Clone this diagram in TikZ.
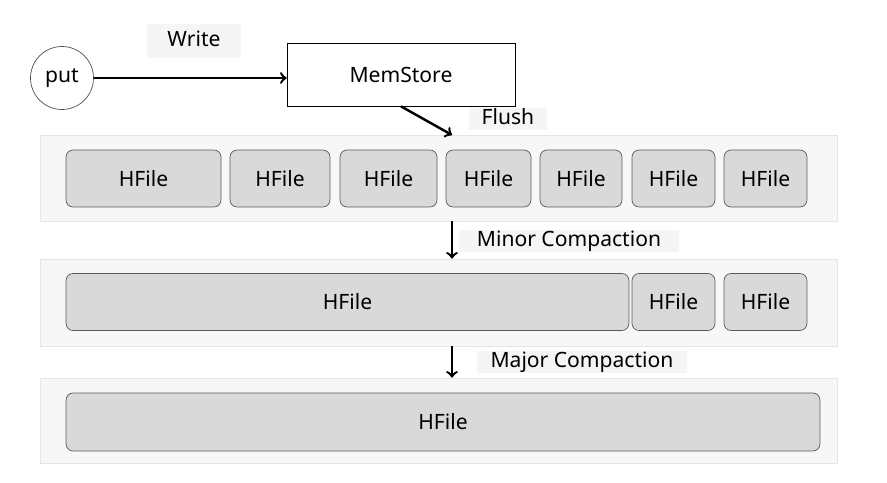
\documentclass[tikz,border=0pt]{standalone}
\usepackage{fontspec}
\setmainfont{Noto Sans}
\usepackage{tikz}
\usetikzlibrary{arrows,positioning}

\begin{document}
\begin{tikzpicture}[x=0.02cm,y=-0.02cm,>=to,
	font=\fontsize{12}{14}\selectfont,
	band/.style={draw=black!10,fill=black!3,minimum width=15.94cm,inner sep=0pt},
	hfile/.style={draw=black!65,fill=black!15,rounded corners=4pt,minimum height=1.14cm,inner sep=0pt},
	tag/.style={fill=black!4,text height=9pt,text depth=2.5pt,inner xsep=2pt,inner ysep=0.5pt},
	flow/.style={->,line width=1.4pt}]
	
	\useasboundingbox (0,0) rectangle (887,483);
	
	% top: put -> MemStore
	\node[draw=black!70,circle,minimum size=1.26cm,inner sep=0pt] (put) at (62,78) {put};
	\node[draw,minimum width=4.56cm,minimum height=1.26cm] (mem) at (401,74.5) {MemStore};
	\node[tag,minimum width=1.9cm,minimum height=0.7cm] (write) at (194,41) {Write};
	\draw[flow] (put) -- (put -| mem.west);
	
	% the three levels
	\node[band,minimum height=1.72cm] (band1) at (438.5,178) {};
	\node[band,minimum height=1.74cm] (band2) at (438.5,302.5) {};
	\node[band,minimum height=1.70cm] (band3) at (438.5,420.5) {};
	
	\node[hfile,minimum width=3.10cm] (a1) at (143.5,178.5) {HFile};
	\node[hfile,minimum width=2.00cm] (a2) at (280,178.5) {HFile};
	\node[hfile,minimum width=1.94cm] (a3) at (388.5,178.5) {HFile};
	\node[hfile,minimum width=1.70cm] (a4) at (488.5,178.5) {HFile};
	\node[hfile,minimum width=1.64cm] (a5) at (581,178.5) {HFile};
	\node[hfile,minimum width=1.66cm] (a6) at (673.5,178.5) {HFile};
	\node[hfile,minimum width=1.66cm] (a7) at (765.5,178.5) {HFile};
	
	\node[hfile,minimum width=11.26cm] (b1) at (347.5,302) {HFile};
	\node[hfile,minimum width=1.66cm] (b2) at (673.5,302) {HFile};
	\node[hfile,minimum width=1.66cm] (b3) at (765.5,302) {HFile};
	
	\node[hfile,minimum width=15.08cm,minimum height=1.16cm] (c1) at (443,422) {HFile};
	
	% flush and compactions
	\coordinate (f) at (452,135);
	\draw[flow] (mem.south) -- (f);
	\node[tag,minimum width=1.55cm] (flush) at (508,119) {Flush};
	
	\draw[flow] (band1.south -| f) -- (band2.north -| f);
	\node[tag,minimum width=4.4cm] (minor) at (569,241) {Minor Compaction};
	
	\draw[flow] (band2.south -| f) -- (band3.north -| f);
	\node[tag,minimum width=4.2cm] (major) at (582,362) {Major Compaction};
	
\end{tikzpicture}
\end{document}
